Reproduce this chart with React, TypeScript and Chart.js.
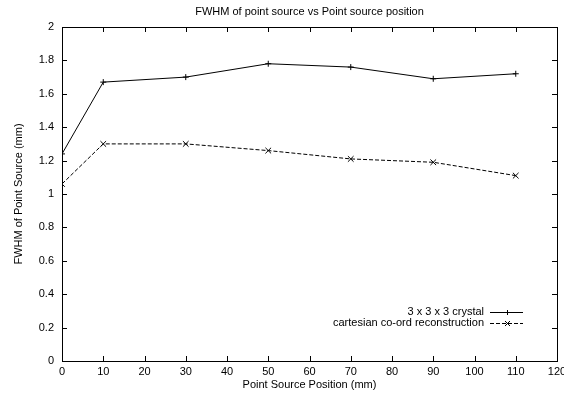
import React, { useEffect, useRef } from "react";
import { Chart, registerables } from "chart.js";

Chart.register(...registerables);

const positions = [0, 10, 30, 50, 70, 90, 110];
const crystalFwhm = [1.24, 1.67, 1.70, 1.78, 1.76, 1.69, 1.72];
const cartesianFwhm = [1.06, 1.30, 1.30, 1.26, 1.21, 1.19, 1.11];
const seriesLabels = ["3 x 3 x 3 crystal", "cartesian co-ord reconstruction"];
const titleText = "FWHM of point source vs Point source position";
const xTitle = "Point Source Position (mm)";
const yTitle = "FWHM of Point Source (mm)";

const FONT = "'Liberation Sans', Arial, Helvetica, sans-serif";

const titlePlugin = {
  id: "centerTitle",
  afterDraw(chart: any) {
    const { ctx, chartArea } = chart;
    ctx.save();
    ctx.font = `11px ${FONT}`;
    ctx.fillStyle = "#000";
    ctx.textAlign = "center";
    ctx.textBaseline = "middle";
    ctx.fillText(titleText, (chartArea.left + chartArea.right) / 2, 12);
    ctx.restore();
  },
};

const frameTicksPlugin = {
  id: "frameTicks",
  afterDatasetsDraw(chart: any) {
    const { ctx, chartArea, scales } = chart;
    const { left, right, top, bottom } = chartArea;
    ctx.save();
    ctx.strokeStyle = "#000";
    ctx.lineWidth = 1;
    ctx.setLineDash([]);
    ctx.beginPath();
    ctx.rect(Math.round(left) + 0.5, Math.round(top) + 0.5, Math.round(right - left), Math.round(bottom - top));
    ctx.stroke();
    const len = 5;
    ctx.beginPath();
    scales.x.ticks.forEach((t: any) => {
      const x = Math.round(scales.x.getPixelForValue(t.value)) + 0.5;
      ctx.moveTo(x, bottom);
      ctx.lineTo(x, bottom - len);
      ctx.moveTo(x, top);
      ctx.lineTo(x, top + len);
    });
    scales.y.ticks.forEach((t: any) => {
      const y = Math.round(scales.y.getPixelForValue(t.value)) + 0.5;
      ctx.moveTo(left, y);
      ctx.lineTo(left + len, y);
      ctx.moveTo(right, y);
      ctx.lineTo(right - len, y);
    });
    ctx.stroke();
    ctx.restore();
  },
};

const legendPlugin = {
  id: "insideLegend",
  afterDraw(chart: any) {
    const { ctx, chartArea } = chart;
    const textRight = chartArea.right - 73;
    const sampleL = chartArea.right - 67;
    const sampleR = chartArea.right - 34;
    const rowY = [chartArea.bottom - 49, chartArea.bottom - 38];
    ctx.save();
    ctx.font = `11px ${FONT}`;
    ctx.fillStyle = "#000";
    ctx.textAlign = "right";
    ctx.textBaseline = "middle";
    chart.data.datasets.forEach((ds: any, i: number) => {
      const y = rowY[i];
      ctx.fillText(ds.label, textRight, y);
      ctx.strokeStyle = "#000";
      ctx.lineWidth = 1;
      ctx.setLineDash(ds.borderDash || []);
      ctx.beginPath();
      ctx.moveTo(sampleL, y + 0.5);
      ctx.lineTo(sampleR, y + 0.5);
      ctx.stroke();
      ctx.setLineDash([]);
      const cx = Math.round((sampleL + sampleR) / 2) + 0.5;
      const r = 2.5;
      ctx.beginPath();
      if (ds.pointStyle === "cross") {
        ctx.moveTo(cx - r, y + 0.5);
        ctx.lineTo(cx + r, y + 0.5);
        ctx.moveTo(cx, y - r + 0.5);
        ctx.lineTo(cx, y + r + 0.5);
      } else {
        ctx.moveTo(cx - r, y - r + 0.5);
        ctx.lineTo(cx + r, y + r + 0.5);
        ctx.moveTo(cx - r, y + r + 0.5);
        ctx.lineTo(cx + r, y - r + 0.5);
      }
      ctx.stroke();
    });
    ctx.restore();
  },
};

export default function App() {
  const ref = useRef<HTMLCanvasElement | null>(null);
  useEffect(() => {
    document.body.style.margin = "0";
    if (!ref.current) return;
    const chart = new Chart(ref.current, {
      type: "line",
      data: {
        datasets: [
          {
            label: seriesLabels[0],
            data: positions.map((x, i) => ({ x, y: crystalFwhm[i] })),
            borderColor: "#000",
            backgroundColor: "#000",
            borderWidth: 1,
            pointStyle: "cross",
            pointRadius: 3,
            pointBorderWidth: 1,
            pointBorderColor: "#000",
            tension: 0,
          },
          {
            label: seriesLabels[1],
            data: positions.map((x, i) => ({ x, y: cartesianFwhm[i] })),
            borderColor: "#000",
            backgroundColor: "#000",
            borderWidth: 1,
            borderDash: [4, 2],
            pointStyle: "crossRot",
            pointRadius: 4,
            pointBorderWidth: 1,
            pointBorderColor: "#000",
            tension: 0,
          },
        ],
      },
      options: {
        animation: false,
        responsive: false,
        devicePixelRatio: 1,
        layout: { padding: { left: 0, right: 7, top: 27, bottom: 0 } },
        plugins: {
          legend: { display: false },
          tooltip: { enabled: false },
          title: { display: false },
        },
        scales: {
          x: {
            type: "linear",
            min: 0,
            max: 120,
            ticks: {
              stepSize: 10,
              color: "#000",
              font: { family: FONT, size: 11 },
              padding: 4,
              maxRotation: 0,
              autoSkip: false,
            },
            grid: { display: true, drawOnChartArea: false, drawTicks: false },
            border: { display: true, color: "#000" },
            title: {
              display: true,
              text: xTitle,
              color: "#000",
              font: { family: FONT, size: 11 },
              padding: { top: 0, bottom: 5 },
            },
            afterFit(scale: any) {
              scale.height = 36;
              scale.paddingRight = 0;
            },
          },
          y: {
            type: "linear",
            min: 0,
            max: 2,
            ticks: {
              stepSize: 0.2,
              color: "#000",
              font: { family: FONT, size: 11 },
              padding: 8,
              callback: (v: any) => String(Math.round(Number(v) * 10) / 10),
            },
            grid: { display: true, drawOnChartArea: false, drawTicks: false },
            border: { display: true, color: "#000" },
            title: {
              display: true,
              text: yTitle,
              color: "#000",
              font: { family: FONT, size: 11 },
              padding: { top: 12, bottom: 0 },
            },
            afterFit(scale: any) {
              scale.width = 62;
            },
          },
        },
      },
      plugins: [frameTicksPlugin, legendPlugin, titlePlugin],
    });
    return () => chart.destroy();
  }, []);
  return (
    <div style={{ width: 564, height: 397, background: "#fff" }}>
      <canvas ref={ref} width={564} height={397} style={{ display: "block" }} />
    </div>
  );
}
